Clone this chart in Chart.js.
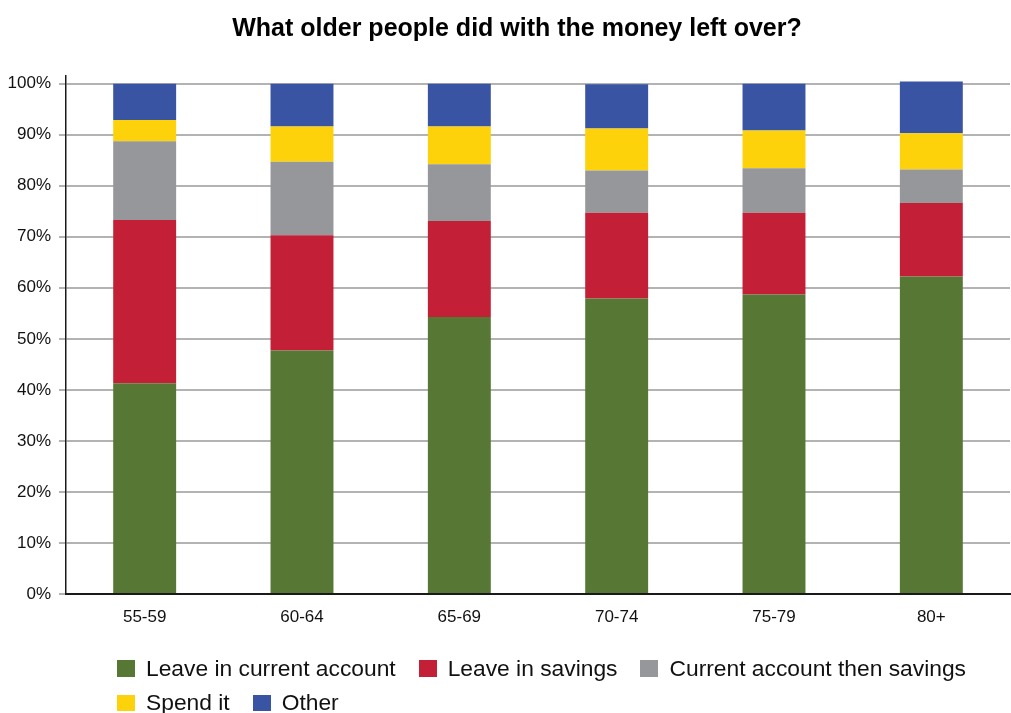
<!DOCTYPE html>
<html>
<head>
<meta charset="utf-8">
<script src="https://cdn.jsdelivr.net/npm/chart.js@4"></script>
<style>
  html, body { margin: 0; padding: 0; background: #fff; }
  #wrap { position: relative; width: 1011px; height: 713px; overflow: hidden; }
  #chart { position: absolute; left: 0; top: 0; }
  #title {
    position: absolute; left: 0; top: 12px; width: 1034px; text-align: center;
    font-family: "Liberation Sans", Arial, Helvetica, sans-serif;
    font-size: 25px; line-height: 30px; font-weight: bold; color: #000;
  }
  #legend {
    position: absolute; left: 117px; top: 651px; width: 894px;
    display: flex; flex-wrap: wrap;
    font-family: "Liberation Sans", Arial, Helvetica, sans-serif;
    font-size: 22.8px; color: #111; white-space: nowrap;
  }
  .item { display: flex; align-items: center; height: 34.5px; margin-right: 23px; }
  .swatch { width: 18px; height: 16.5px; margin-right: 11px; }
</style>
</head>
<body>
<div id="wrap">
  <canvas id="chart" width="1011" height="713"></canvas>
  <div id="title">What older people did with the money left over?</div>
  <div id="legend"></div>
</div>
<script>
// Age bands and what each group did with money left over (% of respondents)
const ageGroups = ['55-59', '60-64', '65-69', '70-74', '75-79', '80+'];
const leaveInCurrent   = [41.3, 47.7, 54.3, 57.9, 58.7, 62.2];
const leaveInSavings   = [32.0, 22.6, 18.8, 16.8, 16.0, 14.4];
const currentThenSave  = [15.4, 14.4, 11.1,  8.3,  8.7,  6.6];
const spendIt          = [ 4.2,  6.9,  7.4,  8.2,  7.4,  7.1];
const other            = [ 7.1,  8.4,  8.4,  8.7,  9.2, 10.1];
const seriesNames = ['Leave in current account', 'Leave in savings', 'Current account then savings', 'Spend it', 'Other'];
const yTickValues = [0, 10, 20, 30, 40, 50, 60, 70, 80, 90, 100];

const seriesColors = ['#567834', '#c32037', '#96979b', '#fdd20a', '#3a54a4'];
const seriesValues = [leaveInCurrent, leaveInSavings, currentThenSave, spendIt, other];
const FONT = '"Liberation Sans", Arial, Helvetica, sans-serif';

const datasets = seriesNames.map((name, i) => ({
  label: name,
  data: seriesValues[i],
  backgroundColor: seriesColors[i],
  borderWidth: 0,
  barPercentage: 0.4,
  categoryPercentage: 1.0
}));

new Chart(document.getElementById('chart'), {
  type: 'bar',
  data: { labels: ageGroups, datasets },
  options: {
    responsive: false,
    animation: false,
    layout: { padding: { left: 0, right: 1, top: 76, bottom: 0 } },
    plugins: {
      legend: { display: false },
      tooltip: { enabled: false },
      title: { display: false }
    },
    scales: {
      x: {
        stacked: true,
        grid: { display: false, drawTicks: false },
        border: { display: true, color: '#1a1a1a', width: 2 },
        ticks: { color: '#111', font: { family: FONT, size: 17 }, padding: 13 },
        afterFit: s => { s.height = 119; }
      },
      y: {
        stacked: true,
        min: 0,
        max: 101.5,
        afterBuildTicks: s => { s.ticks = yTickValues.map(v => ({ value: v })); },
        grid: { color: '#b3b3b3', lineWidth: 2, tickLength: 7 },
        border: { display: true, color: '#1a1a1a', width: 1.5 },
        ticks: {
          color: '#111',
          font: { family: FONT, size: 17 },
          padding: 8,
          callback: v => v + '%'
        },
        afterFit: s => { s.width = 66; }
      }
    }
  }
});

// Legend below the plot
const legend = document.getElementById('legend');
seriesNames.forEach((name, i) => {
  const item = document.createElement('div');
  item.className = 'item';
  const sw = document.createElement('span');
  sw.className = 'swatch';
  sw.style.background = seriesColors[i];
  const txt = document.createElement('span');
  txt.textContent = name;
  item.appendChild(sw);
  item.appendChild(txt);
  legend.appendChild(item);
});
</script>
</body>
</html>
